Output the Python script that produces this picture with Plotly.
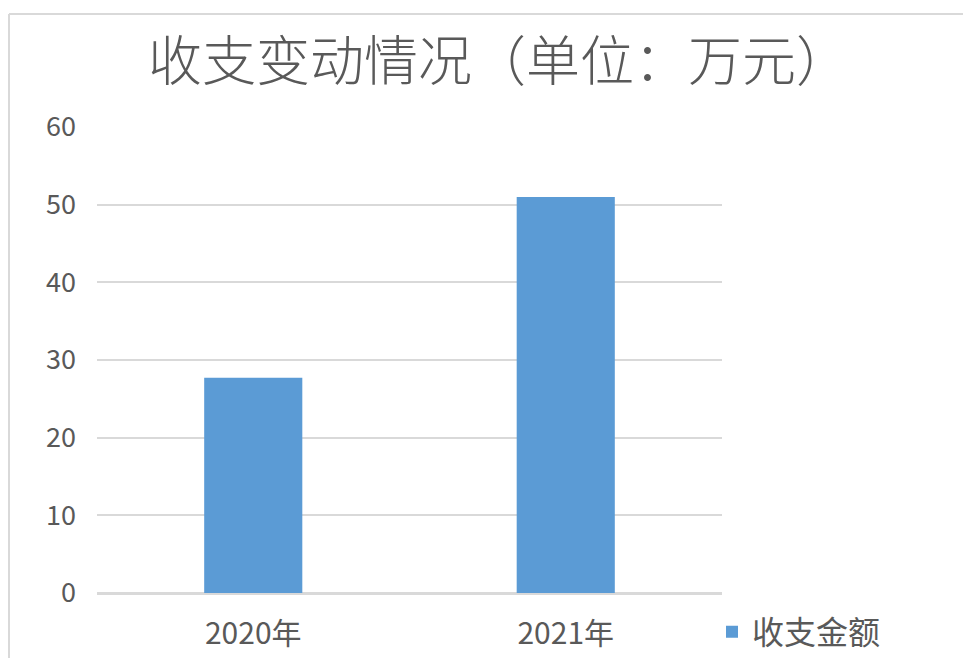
import plotly.graph_objects as go

categories = ["2020年", "2021年"]
values = [27.7, 51.0]
series_name = "收支金额"
title_text = "收支变动情况（单位：万元）"
y_ticks = [0, 10, 20, 30, 40, 50, 60]

font_family = "Noto Sans CJK SC, Noto Sans, sans-serif"
text_color = "#595959"
grid_color = "#d9d9d9"

fig = go.Figure()
fig.add_trace(go.Bar(
    x=categories, y=values, name=series_name,
    marker=dict(color="#5b9bd5", line=dict(width=0)),
    width=0.314, showlegend=True,
))

OFF = 8  # page body margin
PAGE_W, PAGE_H = 971, 658
W, H = PAGE_W - OFF, PAGE_H - OFF
PL, PR, PT, PB = 97, 722, 127, 593  # plot area in page pixels
L, R, T, B = PL - OFF, PAGE_W - PR, PT - OFF, PAGE_H - PB
pw, ph = PR - PL, PB - PT

def px_x(x):
    return (x - PL) / pw

def px_y(y):
    return (PB - y) / ph

fig.update_layout(
    width=W, height=H,
    margin=dict(l=L, r=R, t=T, b=B, autoexpand=False),
    paper_bgcolor="white", plot_bgcolor="white",
    font=dict(family=font_family, color=text_color),
    title=dict(text=title_text, x=(499 - OFF) / W, xanchor="center",
               y=1 - (62 - OFF) / H, yanchor="middle",
               font=dict(size=54, color=text_color, family=font_family, weight=300)),
    showlegend=True,
    legend=dict(x=px_x(712), xanchor="left", y=px_y(632), yanchor="middle",
                font=dict(size=32, color=text_color, family=font_family),
                bgcolor="rgba(0,0,0,0)", itemwidth=30),
    xaxis=dict(showgrid=False, showline=True, linecolor=grid_color, linewidth=2,
               ticks="", tickfont=dict(size=30, color=text_color), ticklabelstandoff=13,
               fixedrange=True),
    yaxis=dict(range=[0, 60], tickvals=y_ticks, showgrid=True, gridcolor=grid_color, gridwidth=2,
               zeroline=True, zerolinecolor=grid_color, zerolinewidth=2, showline=False,
               ticks="", tickfont=dict(size=27, color=text_color), ticklabelstandoff=20),
    bargap=0.686,
    shapes=[
        dict(type="line", xref="paper", yref="paper", x0=px_x(9), x1=px_x(975), y0=px_y(14), y1=px_y(14),
             line=dict(color=grid_color, width=2)),
        dict(type="line", xref="paper", yref="paper", x0=px_x(9), x1=px_x(9), y0=px_y(14), y1=px_y(665),
             line=dict(color=grid_color, width=2)),
    ],
)

fig.write_html("out.html")
